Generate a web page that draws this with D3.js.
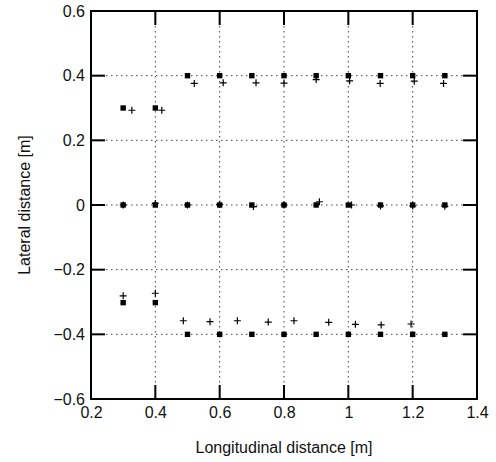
<!DOCTYPE html>
<html>
<head>
<meta charset="utf-8">
<script src="https://cdn.jsdelivr.net/npm/d3@7"></script>
<style>
  body { margin: 0; background: #fff; }
  svg { font-family: "Liberation Sans", Arial, sans-serif; }
</style>
</head>
<body>
<div id="chart"></div>
<script>
// measured positions (filled squares) and estimated positions (plus signs)
var squareX = [0.3, 0.4, 0.5, 0.6, 0.7, 0.8, 0.9, 1.0, 1.1, 1.2, 1.3,
               0.3, 0.4, 0.5, 0.6, 0.7, 0.8, 0.9, 1.0, 1.1, 1.2, 1.3,
               0.3, 0.4, 0.5, 0.6, 0.7, 0.8, 0.9, 1.0, 1.1, 1.2, 1.3];
var squareY = [0.3, 0.3, 0.4, 0.4, 0.4, 0.4, 0.4, 0.4, 0.4, 0.4, 0.4,
               0, 0, 0, 0, 0, 0, 0, 0, 0, 0, 0,
               -0.302, -0.302, -0.4, -0.4, -0.4, -0.4, -0.4, -0.4, -0.4, -0.4, -0.4];

var plusX = [0.327, 0.42, 0.521, 0.611, 0.713, 0.80, 0.90, 1.004, 1.099, 1.205, 1.296,
             0.30, 0.40, 0.50, 0.60, 0.705, 0.80, 0.91, 1.01, 1.10, 1.20, 1.30,
             0.30, 0.40, 0.487, 0.57, 0.655, 0.751, 0.831, 0.939, 1.022, 1.102, 1.195];
var plusY = [0.293, 0.293, 0.376, 0.378, 0.378, 0.377, 0.388, 0.384, 0.376, 0.383, 0.376,
             0, 0.005, 0, 0.002, -0.005, 0, 0.01, 0, -0.003, -0.003, -0.004,
             -0.281, -0.273, -0.358, -0.361, -0.358, -0.362, -0.358, -0.363, -0.369, -0.371, -0.368];

var xTicks = [0.2, 0.4, 0.6, 0.8, 1.0, 1.2, 1.4];
var yTicks = [-0.6, -0.4, -0.2, 0, 0.2, 0.4, 0.6];

var svgWidth = 496, svgHeight = 462;
var margin = {top: 11, right: 19, bottom: 63, left: 91};
var chartWidth = svgWidth - margin.left - margin.right;
var chartHeight = svgHeight - margin.top - margin.bottom;

var svg = d3.select("#chart").append("svg")
  .attr("width", svgWidth)
  .attr("height", svgHeight);

var chartGroup = svg.append("g")
  .attr("transform", `translate(${margin.left}, ${margin.top})`);

var xScale = d3.scaleLinear().domain([0.2, 1.4]).range([0, chartWidth]);
var yScale = d3.scaleLinear().domain([-0.6, 0.6]).range([chartHeight, 0]);

var fmt = d => d === 0 ? "0" : (d === 1 ? "1" : d3.format(".1f")(d).replace("-", "\u2212"));

// dotted grid
chartGroup.selectAll(".gx").data(xTicks.slice(1, -1)).enter().append("line")
  .attr("x1", d => xScale(d)).attr("x2", d => xScale(d))
  .attr("y1", 0).attr("y2", chartHeight)
  .attr("stroke", "#444").attr("stroke-width", 1).attr("stroke-dasharray", "1.5,3.5");
chartGroup.selectAll(".gy").data(yTicks.slice(1, -1)).enter().append("line")
  .attr("y1", d => yScale(d)).attr("y2", d => yScale(d))
  .attr("x1", 0).attr("x2", chartWidth)
  .attr("stroke", "#444").attr("stroke-width", 1).attr("stroke-dasharray", "1.5,3.5");

// axis labels (tick marks drawn separately below)
chartGroup.append("g")
  .attr("transform", `translate(0, ${chartHeight})`)
  .call(d3.axisBottom(xScale).tickValues(xTicks).tickFormat(fmt).tickSize(0).tickPadding(8))
  .call(g => g.select(".domain").remove());
chartGroup.append("g")
  .call(d3.axisLeft(yScale).tickValues(yTicks).tickFormat(fmt).tickSize(0).tickPadding(6))
  .call(g => g.select(".domain").remove());
chartGroup.selectAll(".tick text").attr("font-size", 16).attr("fill", "#111");

// inward tick marks on all four sides, drawn as thin filled rects
var tickLen = 14, tickW = 2, tickColor = "#000";
chartGroup.selectAll(".xtickTop").data(xTicks).enter().append("rect")
  .attr("x", d => xScale(d) - tickW / 2).attr("y", 0)
  .attr("width", tickW).attr("height", tickLen).attr("fill", tickColor);
chartGroup.selectAll(".xtickBot").data(xTicks).enter().append("rect")
  .attr("x", d => xScale(d) - tickW / 2).attr("y", chartHeight - tickLen)
  .attr("width", tickW).attr("height", tickLen).attr("fill", tickColor);
chartGroup.selectAll(".ytickL").data(yTicks).enter().append("rect")
  .attr("x", 0).attr("y", d => yScale(d) - tickW / 2)
  .attr("width", tickLen).attr("height", tickW).attr("fill", tickColor);
chartGroup.selectAll(".ytickR").data(yTicks).enter().append("rect")
  .attr("x", chartWidth - tickLen).attr("y", d => yScale(d) - tickW / 2)
  .attr("width", tickLen).attr("height", tickW).attr("fill", tickColor);

// frame
chartGroup.append("rect")
  .attr("width", chartWidth).attr("height", chartHeight)
  .attr("fill", "none").attr("stroke", "#000").attr("stroke-width", 2);

// squares
chartGroup.selectAll(".sq").data(squareX).enter().append("rect")
  .attr("x", (d, i) => xScale(d) - 2.7)
  .attr("y", (d, i) => yScale(squareY[i]) - 2.7)
  .attr("width", 5.4).attr("height", 5.4)
  .attr("fill", "#000");

// plus signs
chartGroup.selectAll(".plus").data(plusX).enter().append("path")
  .attr("d", (d, i) => {
    var px = xScale(d), py = yScale(plusY[i]);
    return `M${px - 3.5},${py}H${px + 3.5}M${px},${py - 3.5}V${py + 3.5}`;
  })
  .attr("stroke", "#000").attr("stroke-width", 1.2).attr("fill", "none");

// axis titles
svg.append("text")
  .attr("x", margin.left + chartWidth / 2).attr("y", 453)
  .attr("text-anchor", "middle").attr("font-size", 16).attr("fill", "#111")
  .text("Longitudinal distance [m]");
svg.append("text")
  .attr("transform", `translate(30, ${margin.top + chartHeight / 2}) rotate(-90)`)
  .attr("text-anchor", "middle").attr("font-size", 16).attr("fill", "#111")
  .text("Lateral distance [m]");
</script>
</body>
</html>
